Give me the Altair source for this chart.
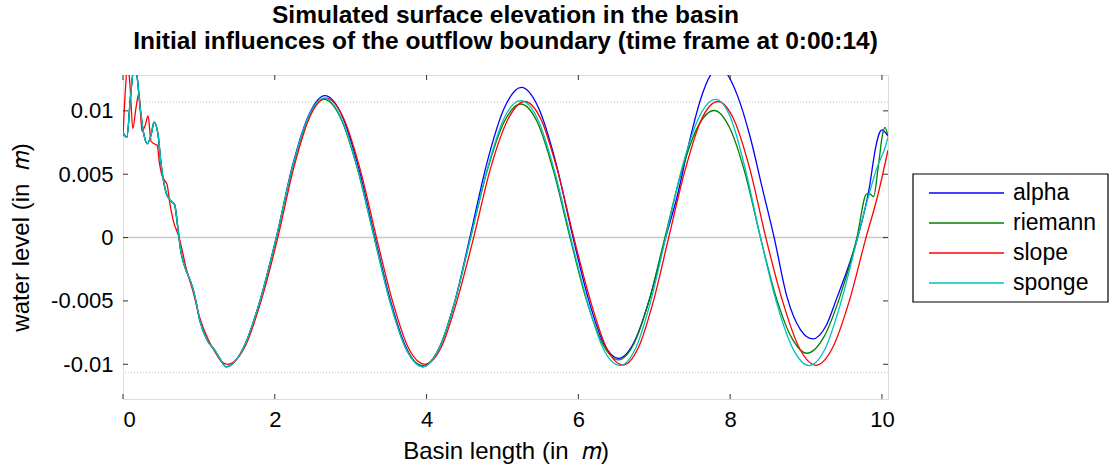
import altair as alt
import pandas as pd

# ---------------- data ----------------
series_names = ["alpha", "riemann", "slope", "sponge"]
series_colors = ["#0000FF", "#008000", "#FF0000", "#00BFBF"]

# shared start of alpha / riemann / sponge (they overlap there)
early_x = [0.0, 0.05, 0.10, 0.15, 0.19, 0.22, 0.28, 0.32, 0.37, 0.41, 0.46, 0.50,
           0.57, 0.63, 0.68, 0.72, 0.76, 0.82, 0.88, 0.92, 0.96, 1.01, 1.12, 1.21,
           1.28, 1.36]
early_y = [0.0083, 0.0079, 0.0112, 0.0136, 0.0125, 0.0106, 0.0080, 0.0074, 0.0081,
           0.0091, 0.0082, 0.0059, 0.0035, 0.0029, 0.0026, 0.0009, -0.0010, -0.0024,
           -0.0033, -0.0040, -0.0050, -0.0065, -0.0082, -0.0089, -0.0096, -0.0102]

alpha_x = early_x + [1.58, 1.80, 2.02, 2.23, 2.45, 2.66, 2.88, 3.10, 3.32, 3.53, 3.74,
                     3.95, 4.16, 4.37, 4.57, 4.80, 5.03, 5.25, 5.47, 5.70, 5.93, 6.13,
                     6.33, 6.53, 6.73, 6.94, 7.15, 7.30, 7.48, 7.61, 7.74, 7.85, 7.96,
                     8.09, 8.27, 8.42, 8.58, 8.75, 8.93, 9.09, 9.26, 9.41, 9.54, 9.68,
                     9.83, 9.92, 9.97, 10.00, 10.08]
alpha_y = early_y + [-0.0088, -0.0051, 0.0, 0.0056, 0.0097, 0.0112, 0.0097, 0.0056, 0.0,
                     -0.0051, -0.0088, -0.0102, -0.0088, -0.0051, 0.0, 0.0060, 0.0103,
                     0.01185, 0.0103, 0.0060, 0.0, -0.0048, -0.0083, -0.00953, -0.0083,
                     -0.0048, 0.0, 0.0032, 0.0080, 0.0109, 0.0128, 0.0133, 0.0129,
                     0.0113, 0.0078, 0.0040, 0.0, -0.0047, -0.0073, -0.0080, -0.0070,
                     -0.0047, -0.0026, 0.0, 0.0038, 0.0072, 0.0083, 0.0085, 0.0080]

riemann_x = early_x + [1.58, 1.80, 2.02, 2.23, 2.44, 2.65, 2.87, 3.09, 3.31, 3.52, 3.73,
                       3.95, 4.16, 4.37, 4.58, 4.80, 5.02, 5.24, 5.46, 5.67, 5.89, 6.10,
                       6.32, 6.53, 6.73, 6.94, 7.14, 7.35, 7.57, 7.79, 7.99, 8.20, 8.40,
                       8.60, 8.81, 9.01, 9.23, 9.45, 9.67, 9.80, 9.85, 9.89, 9.95, 10.01,
                       10.04, 10.08]
riemann_y = early_y + [-0.0088, -0.0051, 0.0, 0.0054, 0.0094, 0.0109, 0.0094, 0.0054, 0.0,
                       -0.0051, -0.0088, -0.0101, -0.0088, -0.0051, 0.0, 0.0053, 0.0091,
                       0.01054, 0.0091, 0.0053, 0.0, -0.0048, -0.0084, -0.00966, -0.0084,
                       -0.0048, 0.0, 0.0050, 0.0087, 0.01003, 0.0087, 0.0050, 0.0,
                       -0.0046, -0.0079, -0.00913, -0.0079, -0.0046, 0.0, 0.00345, 0.0034,
                       0.00324, 0.0055, 0.0082, 0.0087, 0.0080]

slope_x = [0.0, 0.03, 0.06, 0.09, 0.13, 0.17, 0.21, 0.25, 0.29, 0.33, 0.37, 0.41, 0.45,
           0.48, 0.52, 0.55, 0.58, 0.62, 0.66, 0.74, 0.84, 0.92, 1.01, 1.12, 1.21, 1.30,
           1.38, 1.60, 1.82, 2.04, 2.25, 2.46, 2.68, 2.90, 3.12, 3.34, 3.55, 3.76, 3.98,
           4.19, 4.40, 4.62, 4.84, 5.07, 5.29, 5.51, 5.72, 5.94, 6.16, 6.37, 6.59, 6.79,
           6.99, 7.19, 7.41, 7.62, 7.84, 8.05, 8.26, 8.47, 8.69, 8.91, 9.13, 9.35, 9.57,
           9.79, 9.94, 10.08]
slope_y = [0.0080, 0.0115, 0.0136, 0.0122, 0.0086, 0.0102, 0.0114, 0.0084, 0.0088, 0.0096,
           0.0076, 0.0074, 0.0073, 0.0059, 0.0048, 0.0045, 0.0042, 0.0026, 0.0014, 0.0,
           -0.0026, -0.0042, -0.0063, -0.0080, -0.0090, -0.0098, -0.0100, -0.0087,
           -0.0050, 0.0, 0.0055, 0.0095, 0.0110, 0.0095, 0.0055, 0.0, -0.0050, -0.0087,
           -0.0100, -0.0087, -0.0050, 0.0, 0.0054, 0.0093, 0.01074, 0.0093, 0.0054, 0.0,
           -0.0050, -0.0087, -0.01006, -0.0087, -0.0050, 0.0, 0.0054, 0.0093, 0.01074,
           0.0093, 0.0054, 0.0, -0.0050, -0.0087, -0.01008, -0.0087, -0.0050, 0.0,
           0.0032, 0.0069]

sponge_x = early_x + [1.58, 1.80, 2.02, 2.23, 2.44, 2.65, 2.87, 3.09, 3.31, 3.52, 3.73,
                      3.95, 4.16, 4.37, 4.58, 4.80, 5.02, 5.24, 5.46, 5.68, 5.90, 6.12,
                      6.33, 6.55, 6.75, 6.95, 7.15, 7.37, 7.59, 7.81, 8.01, 8.20, 8.40,
                      8.61, 8.83, 9.04, 9.25, 9.46, 9.68, 9.82, 9.94, 10.03, 10.08]
sponge_y = early_y + [-0.0088, -0.0051, 0.0, 0.0055, 0.0095, 0.0110, 0.0095, 0.0055, 0.0,
                      -0.0051, -0.0088, -0.0102, -0.0088, -0.0051, 0.0, 0.0054, 0.0094,
                      0.0108, 0.0094, 0.0054, 0.0, -0.0051, -0.0088, -0.0101, -0.0088,
                      -0.0051, 0.0, 0.0056, 0.0095, 0.0109, 0.0094, 0.0054, 0.0, -0.0051,
                      -0.0088, -0.0101, -0.0088, -0.0051, 0.0, 0.0032, 0.0056, 0.0069,
                      0.0079]

x_ticks = [0, 2, 4, 6, 8, 10]
y_ticks = [-0.01, -0.005, 0, 0.005, 0.01]
y_tick_labels = ["-0.01", "-0.005", "0", "0.005", "0.01"]
ref_levels = [0.0107, -0.01066]

title_lines = ["Simulated surface elevation in the basin",
               "Initial influences of the outflow boundary (time frame at 0:00:14)"]
x_title = "Basin length (in\u00a0\u00a0\U0001D45A)"
y_title = "water level (in\u00a0\u00a0\U0001D45A)"

# ---------------- build ----------------
rows = []
for name, xs_, ys_ in zip(series_names,
                          [alpha_x, riemann_x, slope_x, sponge_x],
                          [alpha_y, riemann_y, slope_y, sponge_y]):
    for a, b in zip(xs_, ys_):
        rows.append({"series": name, "x": a, "y": b})
df = pd.DataFrame(rows)

W, H = 765, 324
FONT = "Liberation Sans"
xscale = alt.Scale(domain=[0, 10.08], nice=False, zero=False)
yscale = alt.Scale(domain=[-0.01274, 0.01283], nice=False, zero=False)

label_expr = " : ".join(
    [f"datum.value == {v} ? '{t}'" for v, t in zip(y_ticks, y_tick_labels)]) + " : ''"

zero_line = alt.Chart(pd.DataFrame({"y": [0.0]})).mark_rule(
    color="#c8c8c8", strokeWidth=1.5).encode(y=alt.Y("y:Q", scale=yscale))
dotted = alt.Chart(pd.DataFrame({"y": ref_levels})).mark_rule(
    color="#bdbdbd", strokeDash=[1, 2], strokeWidth=1).encode(y=alt.Y("y:Q", scale=yscale))

lines = alt.Chart(df).mark_line(clip=True, strokeWidth=1.3, interpolate="monotone").encode(
    x=alt.X("x:Q", scale=xscale,
            axis=alt.Axis(values=x_ticks, format="d", ticks=False, domain=False, grid=False,
                          labelFont=FONT, labelFontSize=22, labelColor="black",
                          labelPadding=10, title=x_title, titleFont=FONT,
                          titleFontSize=24, titleFontWeight="normal", titleColor="black",
                          titlePadding=9)),
    y=alt.Y("y:Q", scale=yscale,
            axis=alt.Axis(values=y_ticks, labelExpr=label_expr, ticks=False, domain=False,
                          grid=False, labelFont=FONT, labelFontSize=22, labelColor="black",
                          labelPadding=10, title=y_title, titleFont=FONT,
                          titleFontSize=24, titleFontWeight="normal", titleColor="black",
                          titlePadding=17)),
    color=alt.Color("series:N", scale=alt.Scale(domain=series_names, range=series_colors),
                    legend=None),
)

tick_col = "#333333"
xt_df = pd.DataFrame({"x": x_ticks})
yt_df = pd.DataFrame({"y": y_ticks})
xt_bottom = alt.Chart(xt_df).mark_rule(color=tick_col).encode(
    x=alt.X("x:Q", scale=xscale), y=alt.value(H), y2=alt.value(H - 5))
xt_top = alt.Chart(xt_df).mark_rule(color=tick_col).encode(
    x=alt.X("x:Q", scale=xscale), y=alt.value(0), y2=alt.value(5))
yt_left = alt.Chart(yt_df).mark_rule(color=tick_col).encode(
    y=alt.Y("y:Q", scale=yscale), x=alt.value(0), x2=alt.value(5))
yt_right = alt.Chart(yt_df).mark_rule(color=tick_col).encode(
    y=alt.Y("y:Q", scale=yscale), x=alt.value(W), x2=alt.value(W - 5))

# manual legend box (positions relative to the plot area)
one = pd.DataFrame({"k": [0]})
leg_layers = [alt.Chart(one).mark_rect(fill="white", stroke="black", strokeWidth=1.2).encode(
    x=alt.value(790), x2=alt.value(985), y=alt.value(99), y2=alt.value(227))]
for i, (nm, col) in enumerate(zip(series_names, series_colors)):
    yy = 118 + 30 * i
    leg_layers.append(alt.Chart(one).mark_rule(color=col, strokeWidth=1.3).encode(
        x=alt.value(806), x2=alt.value(881), y=alt.value(yy)))
    leg_layers.append(alt.Chart(one).mark_text(
        align="left", baseline="middle", font=FONT, fontSize=23, color="black").encode(
        x=alt.value(890), y=alt.value(yy), text=alt.value(nm)))

chart = alt.layer(zero_line, dotted, lines, xt_bottom, xt_top, yt_left, yt_right,
                  *leg_layers).properties(
    width=W, height=H,
    title=alt.TitleParams(text=title_lines, font=FONT, fontSize=24.5, fontWeight="bold",
                          color="black", anchor="middle", frame="group",
                          baseline="alphabetic", offset=1, lineHeight=26),
    autosize=alt.AutoSizeParams(type="none"),
    padding={"left": 123, "top": 75, "right": 222, "bottom": 71},
).configure_view(stroke="black", strokeWidth=1.5).configure(background="white")

chart.save("out.html", embed_options={"renderer": "svg", "actions": False})
